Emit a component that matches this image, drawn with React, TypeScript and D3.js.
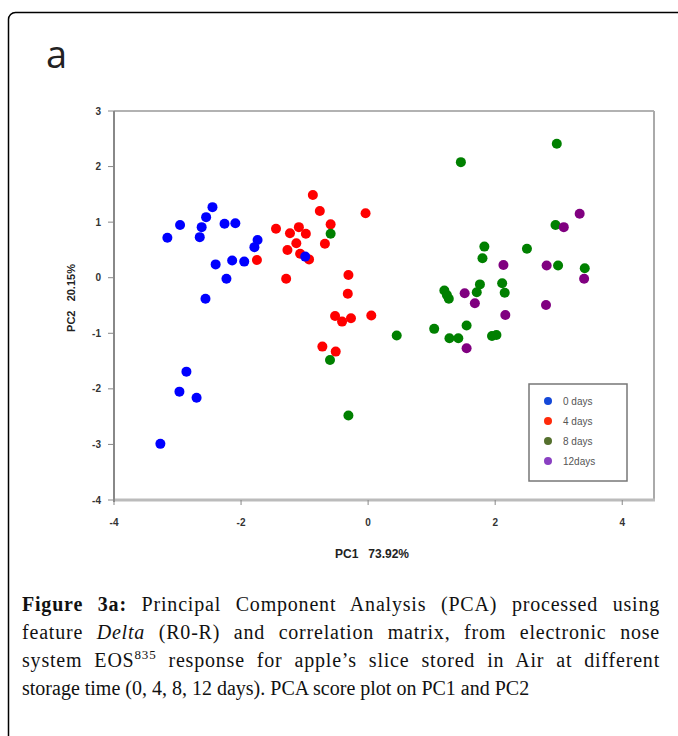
import * as d3 from "d3";

// PCA scores (PC1, PC2)
const day0X = [-3.16, -2.96, -2.45, -2.55, -2.62, -2.65, -2.26, -2.09, -1.74, -1.79, -2.4, -2.14, -1.95, -2.23, -2.56, -2.86, -2.97, -2.7, -3.27, -0.99];
const day0Y = [0.72, 0.95, 1.27, 1.09, 0.91, 0.73, 0.97, 0.98, 0.68, 0.55, 0.24, 0.31, 0.29, -0.02, -0.38, -1.69, -2.05, -2.16, -2.99, 0.38];

const day4X = [-0.87, -0.76, -0.04, -0.59, -1.45, -1.09, -1.23, -0.98, -0.68, -1.13, -1.27, -1.07, -0.93, -1.75, -1.29, -0.31, -0.32, -0.52, -0.41, -0.27, 0.05, -0.72, -0.51];
const day4Y = [1.49, 1.2, 1.16, 0.96, 0.88, 0.91, 0.8, 0.79, 0.61, 0.62, 0.5, 0.43, 0.33, 0.32, -0.02, 0.05, -0.29, -0.69, -0.79, -0.73, -0.68, -1.24, -1.33];

const day8X = [-0.59, 0.45, -0.6, -0.31, 1.46, 2.97, 2.95, 1.83, 2.5, 1.8, 2.99, 3.41, 1.2, 1.24, 1.27, 1.76, 1.71, 2.11, 2.15, 1.04, 1.55, 1.28, 1.42, 1.95, 2.02];
const day8Y = [0.79, -1.04, -1.48, -2.48, 2.08, 2.41, 0.95, 0.56, 0.52, 0.35, 0.22, 0.17, -0.23, -0.31, -0.38, -0.12, -0.26, -0.1, -0.27, -0.92, -0.86, -1.09, -1.09, -1.05, -1.03];

const day12X = [3.33, 3.08, 2.13, 2.81, 3.4, 1.52, 1.68, 2.8, 2.16, 1.55];
const day12Y = [1.15, 0.91, 0.23, 0.22, -0.02, -0.28, -0.46, -0.49, -0.67, -1.27];

const xTicks = [-4, -2, 0, 2, 4];
const yTicks = [3, 2, 1, 0, -1, -2, -3, -4];

const legendLabels = ["0 days", "4 days", "8 days", "12days"];
const pointColors = ["#0000ff", "#ff0000", "#008000", "#800080"];
const legendColors = ["#1448d8", "#ff2a0a", "#55702e", "#8a40c2"];

export default function App() {
  const W = 678;
  const H = 736;
  const left = 114;
  const right = 654;
  const top = 111;
  const bottom = 500;

  const x = d3.scaleLinear().domain([-4, 4.5]).range([left, right]);
  const y = d3.scaleLinear().domain([-4, 3]).range([bottom, top]);

  // drawing order: red under blue, green, purple on top
  const groups = [
    { xs: day4X, ys: day4Y, c: pointColors[1] },
    { xs: day0X, ys: day0Y, c: pointColors[0] },
    { xs: day8X, ys: day8Y, c: pointColors[2] },
    { xs: day12X, ys: day12Y, c: pointColors[3] },
  ];

  const tickFont = "Arial, 'Liberation Sans', sans-serif";
  // justified caption lines, slightly tracked so word gaps stay moderate
  const lineStyle: any = { textAlign: "justify", textAlignLast: "justify", height: 28, whiteSpace: "nowrap", letterSpacing: "0.8px" };

  return (
    <div style={{ position: "absolute", left: 0, top: 0 }}>
      <svg width={W} height={H} style={{ display: "block", background: "#fff" }}>
        <rect x={8.5} y={12.5} width={720} height={780} rx={7} fill="#fff" stroke="#000" strokeWidth={1.5} />

        <text x={46} y={68} fontFamily="'Open Sans', sans-serif" fontSize={38} fill="#222">
          a
        </text>

        {/* plot frame */}
        <line x1={left} x2={right} y1={top} y2={top} stroke="#999" strokeWidth={1.5} />
        <line x1={right} x2={right} y1={top} y2={bottom} stroke="#aaa" strokeWidth={2} />
        <line x1={left} x2={right + 1} y1={bottom} y2={bottom} stroke="#bbb" strokeWidth={3} />
        <line x1={left} x2={left} y1={top} y2={bottom + 2} stroke="#888" strokeWidth={2} />

        {yTicks.map((t) => (
          <g key={"y" + t}>
            <line x1={left - 6} x2={left} y1={y(t)} y2={y(t)} stroke="#888" strokeWidth={1} />
            <text x={101} y={y(t) + 3.5} textAnchor="end" fontFamily={tickFont} fontWeight="bold" fontSize={10} fill="#333">
              {t}
            </text>
          </g>
        ))}
        {xTicks.map((t) => (
          <g key={"x" + t}>
            <line x1={x(t)} x2={x(t)} y1={bottom} y2={bottom + 5} stroke="#888" strokeWidth={1} />
            <text x={x(t)} y={526} textAnchor="middle" fontFamily={tickFont} fontWeight="bold" fontSize={10} fill="#333">
              {t}
            </text>
          </g>
        ))}

        <text x={372} y={558} textAnchor="middle" fontFamily={tickFont} fontWeight="bold" fontSize={12} fill="#222" xmlSpace="preserve">
          {"PC1   73.92%"}
        </text>
        <text transform="translate(75,298) rotate(-90)" textAnchor="middle" fontFamily={tickFont} fontWeight="bold" fontSize={11} fill="#222" xmlSpace="preserve">
          {"PC2   20.15%"}
        </text>

        {groups.map((g, gi) =>
          g.xs.map((v, i) => <circle key={gi + "-" + i} cx={x(v)} cy={y(g.ys[i])} r={5} fill={g.c} />)
        )}

        {/* legend */}
        <rect x={529} y={384} width={98} height={97} fill="#fff" stroke="#777" strokeWidth={1.5} />
        {legendLabels.map((l, i) => (
          <g key={l}>
            <circle cx={548} cy={401 + i * 20} r={4} fill={legendColors[i]} />
            <text x={563} y={405 + i * 20} fontFamily={tickFont} fontSize={10} fill="#555">
              {l}
            </text>
          </g>
        ))}

        {/* caption */}
        <foreignObject x={22} y={590} width={640} height={120}>
          <div style={{ fontFamily: "'Liberation Serif', serif", fontSize: 20, lineHeight: "28px", color: "#111", width: 638 }}>
            <div style={lineStyle}>
              <b>Figure 3a:</b> Principal Component Analysis (PCA) processed using
            </div>
            <div style={lineStyle}>
              feature <i>Delta</i> (R0-R) and correlation matrix, from electronic nose
            </div>
            <div style={lineStyle}>
              system EOS<sup style={{ fontSize: 13, lineHeight: 0 }}>835</sup> response for apple’s slice stored in Air at different
            </div>
            <div style={{ height: 28, whiteSpace: "nowrap" }}>storage time (0, 4, 8, 12 days). PCA score plot on PC1 and PC2</div>
          </div>
        </foreignObject>
      </svg>
    </div>
  );
}
